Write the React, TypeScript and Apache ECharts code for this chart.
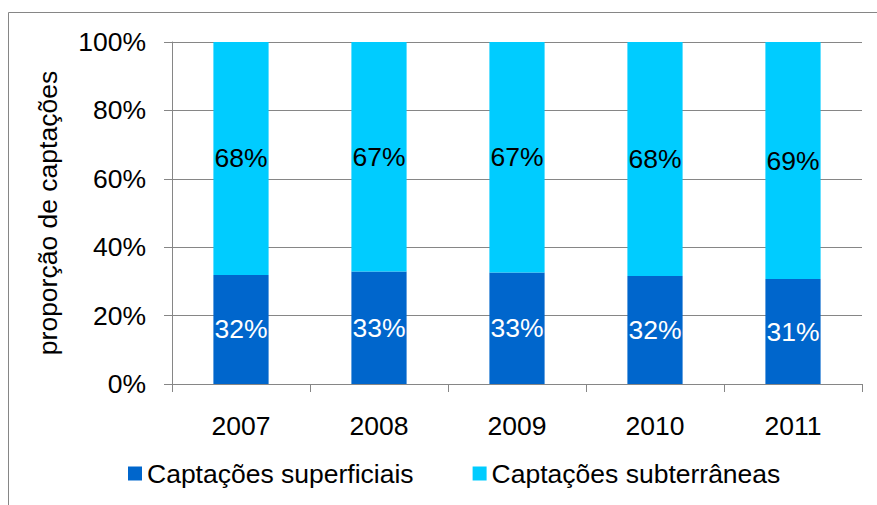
import React, { useEffect, useRef } from "react";
import * as echarts from "echarts";

const years = ["2007", "2008", "2009", "2010", "2011"];
const superficiais = [31.9, 32.9, 32.6, 31.6, 30.7];
const subterraneas = [68.1, 67.1, 67.4, 68.4, 69.3];
const yTicks = [0, 20, 40, 60, 80, 100];

const FONT = "Liberation Sans, Arial, sans-serif";
const FS = 26.5;
const GRAY = "#868686";

export default function App() {
  const ref = useRef<HTMLDivElement>(null);

  useEffect(() => {
    if (!ref.current) return;
    const chart = echarts.init(ref.current, null, { renderer: "svg" });
    const pct = (p: any) => `${Math.round(p.value)}%`;
    chart.setOption({
      animation: false,
      backgroundColor: "#ffffff",
      textStyle: { fontFamily: FONT },
      graphic: [
        {
          type: "rect",
          shape: { x: 8.5, y: 12.5, width: 1000, height: 1000 },
          style: { fill: "none", stroke: GRAY, lineWidth: 1 },
          silent: true,
        },
      ],
      grid: { left: 172, right: 15, top: 42, bottom: 121 },
      legend: {
        left: 128,
        top: 460,
        padding: 0,
        itemWidth: 14,
        itemHeight: 14,
        itemGap: 59,
        icon: "rect",
        textStyle: { fontSize: FS, color: "#000", fontFamily: FONT },
        data: ["Captações superficiais", "Captações subterrâneas"],
      },
      xAxis: {
        type: "category",
        data: years,
        axisLine: { lineStyle: { color: GRAY, width: 1 } },
        axisTick: { show: true, length: 8, alignWithLabel: false, lineStyle: { color: GRAY } },
        axisLabel: { fontSize: FS, color: "#000", margin: 28, fontFamily: FONT },
      },
      yAxis: {
        type: "value",
        min: yTicks[0],
        max: yTicks[yTicks.length - 1],
        interval: 20,
        name: "proporção de captações",
        nameLocation: "middle",
        nameGap: 111,
        nameTextStyle: { fontSize: FS, color: "#000", fontFamily: FONT },
        axisLine: { show: true, lineStyle: { color: GRAY, width: 1 } },
        axisTick: { show: true, length: 8, lineStyle: { color: GRAY } },
        splitLine: { show: true, lineStyle: { color: GRAY, width: 1 } },
        axisLabel: {
          fontSize: FS,
          color: "#000",
          margin: 26,
          fontFamily: FONT,
          formatter: (v: number) => `${v}%`,
        },
      },
      series: [
        {
          name: "Captações superficiais",
          type: "bar",
          stack: "total",
          barWidth: "40%",
          data: superficiais,
          itemStyle: { color: "#0066CC" },
          label: {
            show: true,
            position: "inside",
            color: "#fff",
            fontSize: FS,
            fontFamily: FONT,
            formatter: pct,
          },
        },
        {
          name: "Captações subterrâneas",
          type: "bar",
          stack: "total",
          barWidth: "40%",
          data: subterraneas,
          itemStyle: { color: "#00CCFF" },
          label: {
            show: true,
            position: "inside",
            color: "#000",
            fontSize: FS,
            fontFamily: FONT,
            formatter: pct,
          },
        },
      ],
    });
    return () => chart.dispose();
  }, []);

  return <div ref={ref} style={{ width: 877, height: 505, position: "absolute", left: 0, top: 0 }} />;
}
